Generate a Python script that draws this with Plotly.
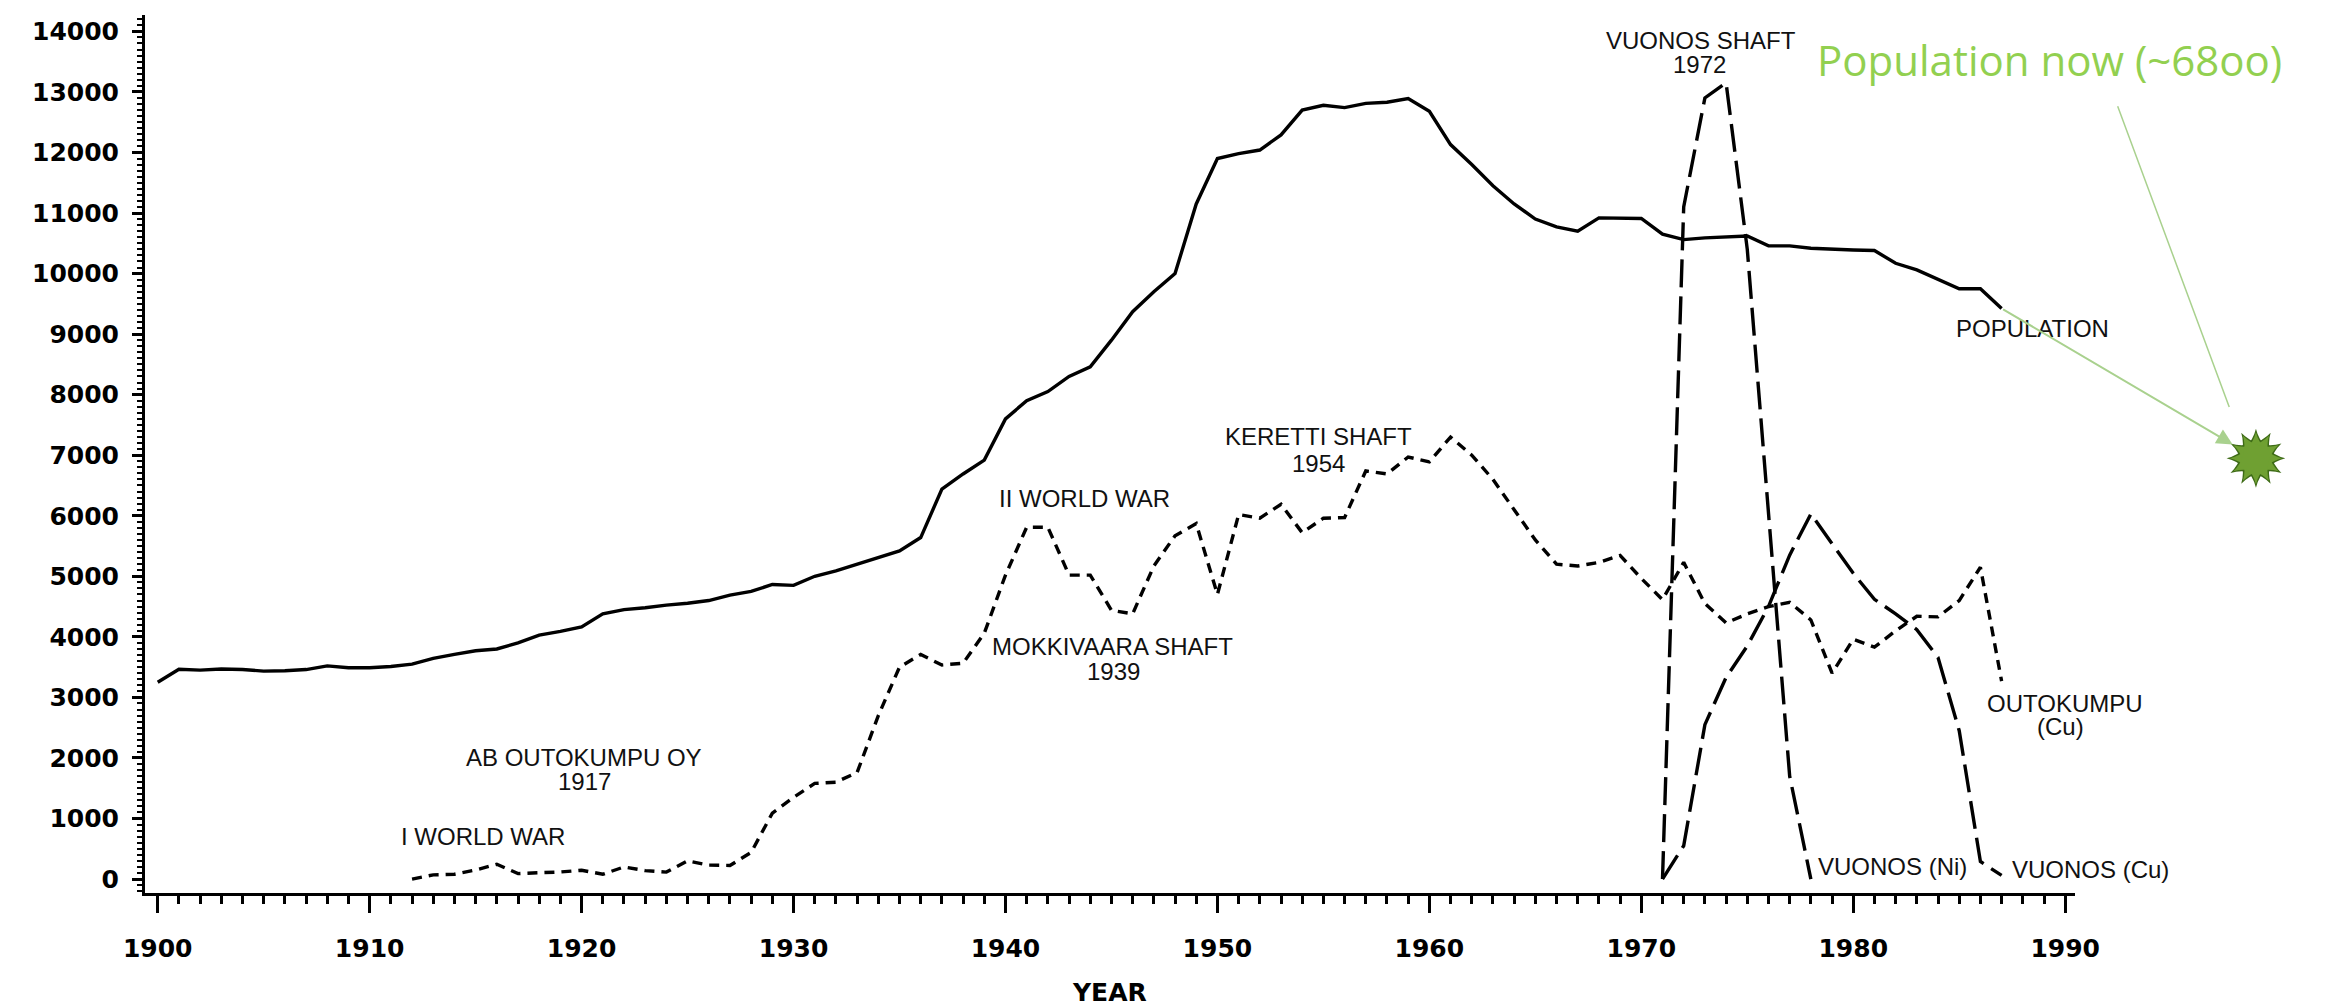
import plotly.graph_objects as go

# ---------------- data ----------------
years_pop = list(range(1900, 1988))
population = [
    3250, 3465, 3450, 3470, 3460, 3435, 3440, 3460, 3520, 3490,   # 1900-1909
    3490, 3510, 3550, 3645, 3710, 3770, 3800, 3900, 4030, 4090,   # 1910-1919
    4165, 4380, 4450, 4480, 4525, 4555, 4600, 4690, 4750, 4865,   # 1920-1929
    4850, 5000, 5090, 5200, 5300, 5420, 5640, 6440, 6690, 6920,   # 1930-1939
    7600, 7900, 8050, 8300, 8460, 8900, 9370, 9700, 10000, 11150,  # 1940-1949
    11900, 11980, 12040, 12290, 12700, 12780, 12740, 12810, 12830, 12890,  # 1950-1959
    12680, 12130, 11800, 11450, 11150, 10900, 10770, 10700, 10920, 10920,  # 1960-1969
    10910, 10650, 10560, 10590, 10610, 10620, 10457, 10457, 10418, 10400,  # 1970-1979
    10390, 10380, 10170, 10060, 9900, 9750, 9750, 9424,                    # 1980-1987
]

years_outo = list(range(1912, 1988))
outokumpu_cu = [
    0, 70, 80, 150, 245, 90, 105, 117,                             # 1912-1919
    146, 80, 200, 140, 115, 300, 230, 225, 440, 1090,              # 1920-1929
    1350, 1580, 1600, 1760, 2700, 3500, 3710, 3535, 3565, 4060,    # 1930-1939
    5020, 5810, 5810, 5020, 5020, 4440, 4380, 5170, 5670, 5870,    # 1940-1949
    4700, 6020, 5960, 6190, 5720, 5960, 5970, 6740, 6690, 6970,    # 1950-1959
    6890, 7300, 7000, 6600, 6100, 5600, 5200, 5170, 5230, 5345,    # 1960-1969
    4965, 4615, 5230, 4550, 4230, 4380, 4500, 4570, 4280, 3400,    # 1970-1979
    3960, 3830, 4100, 4340, 4330, 4600, 5150, 3270,                # 1980-1987
]

years_ni = list(range(1971, 1979))
vuonos_ni = [0, 11100, 12900, 13150, 10400, 6100, 1700, 0]

years_cu = list(range(1971, 1988))
vuonos_cu = [0, 550, 2550, 3330, 3850, 4500, 5350, 6030, 5540, 5050,
             4620, 4380, 4120, 3660, 2450, 290, 60]

now_year = 1999
now_pop = 6950
now_label = "Population now (~68oo)"

x_tick0, x_dtick = 1900, 10
y_tick0, y_dtick = 0, 1000

labels = [  # (text, x, y)
    ("VUONOS SHAFT", 1972.8, 13845),
    ("1972", 1972.75, 13445),
    ("POPULATION", 1988.45, 9092),
    ("KERETTI SHAFT", 1954.75, 7310),
    ("1954", 1954.75, 6865),
    ("II WORLD WAR", 1943.75, 6287),
    ("MOKKIVAARA SHAFT", 1945.07, 3845),
    ("1939", 1945.1, 3432),
    ("AB OUTOKUMPU OY", 1920.1, 2013),
    ("1917", 1920.16, 1617),
    ("I WORLD WAR", 1915.33, 700),
    ("OUTOKUMPU", 1990.0, 2904),
    ("(Cu)", 1989.76, 2513),
    ("VUONOS (Ni)", 1981.83, 205),
    ("VUONOS (Cu)", 1991.2, 158),
]

# ---------------- layout geometry ----------------
W, H = 2328, 1005
ML, MR, MT, MB = 137, 0, 7, 120
X_RANGE = [1899.4, 1990.45]
Y_RANGE = [-230, 14270]
AXIS_END_PX = 2089
D = (AXIS_END_PX - ML) / (W - ML - MR)
X2_RANGE = [X_RANGE[0], X_RANGE[0] + (X_RANGE[1] - X_RANGE[0]) / D]

TICK_FONT = dict(family="DejaVu Sans, Verdana, sans-serif", size=25, color="black", weight="bold")
LABEL_FONT = dict(family="Liberation Sans, Arial, sans-serif", size=24, color="#111111")
GREEN_TEXT = "#92D050"
GREEN_LINE = "#A9D18E"

fig = go.Figure()

fig.add_trace(go.Scatter(x=years_pop, y=population, mode="lines",
                         line=dict(color="black", width=3.4),
                         xaxis="x", yaxis="y", hoverinfo="skip", showlegend=False))
fig.add_trace(go.Scatter(x=years_outo, y=outokumpu_cu, mode="lines",
                         line=dict(color="black", width=3.4, dash="10px,7px"),
                         xaxis="x", yaxis="y", hoverinfo="skip", showlegend=False))
fig.add_trace(go.Scatter(x=years_ni, y=vuonos_ni, mode="lines",
                         line=dict(color="black", width=3.4, dash="28px,9px"),
                         xaxis="x", yaxis="y", hoverinfo="skip", showlegend=False))
fig.add_trace(go.Scatter(x=years_cu, y=vuonos_cu, mode="lines",
                         line=dict(color="black", width=3.4, dash="28px,9px"),
                         xaxis="x", yaxis="y", hoverinfo="skip", showlegend=False))

# starburst marker for "population now"
for size, color in ((42, "#3E6B17"), (37, "#6FA032")):
    for ang in (0, 30, 60):
        fig.add_trace(go.Scatter(x=[now_year], y=[now_pop], mode="markers",
                                 marker=dict(symbol="star-diamond", size=size, color=color,
                                             angle=ang, line=dict(width=0)),
                                 xaxis="x2", yaxis="y", hoverinfo="skip", showlegend=False))

annotations = []
for text, x, y in labels:
    annotations.append(dict(text=text, x=x, y=y, xref="x2", yref="y",
                            xanchor="center", yanchor="middle", showarrow=False,
                            font=LABEL_FONT))

# green text
annotations.append(dict(text=now_label, x=1989.28, y=13540, xref="x2", yref="y",
                        xanchor="center", yanchor="middle", showarrow=False,
                        font=dict(family="Open Sans, Lato, sans-serif", size=42, color=GREEN_TEXT)))
# line from green text to starburst
annotations.append(dict(text="", x=1997.74, y=7798, xref="x2", yref="y",
                        ax=1992.45, ay=12787, axref="x2", ayref="y",
                        showarrow=True, arrowhead=0, arrowwidth=1.5, arrowcolor=GREEN_LINE))
# arrow from population end to starburst
annotations.append(dict(text="", x=now_year, y=now_pop, xref="x2", yref="y",
                        ax=years_pop[-1], ay=population[-1], axref="x2", ayref="y",
                        showarrow=True, arrowhead=2, arrowsize=1.6, arrowwidth=2,
                        standoff=27, arrowcolor=GREEN_LINE))

fig.update_layout(
    width=W, height=H,
    margin=dict(l=ML, r=MR, t=MT, b=MB, pad=0),
    paper_bgcolor="white", plot_bgcolor="rgba(0,0,0,0)",
    showlegend=False,
    annotations=annotations,
    xaxis=dict(domain=[0, D], range=X_RANGE, anchor="y",
               tickmode="linear", tick0=x_tick0, dtick=x_dtick,
               ticks="outside", ticklen=17, tickwidth=3, tickcolor="black",
               minor=dict(tickmode="linear", tick0=x_tick0, dtick=1, ticks="outside",
                          ticklen=8, tickwidth=3, tickcolor="black"),
               showline=True, linewidth=3, linecolor="black",
               showgrid=False, zeroline=False, tickfont=TICK_FONT,
               ticklabelstandoff=14,
               title=dict(text="YEAR", font=TICK_FONT, standoff=22)),
    xaxis2=dict(domain=[0, 1], range=X2_RANGE, anchor="y", visible=False,
                showgrid=False, zeroline=False),
    yaxis=dict(range=Y_RANGE, anchor="x",
               tickmode="linear", tick0=y_tick0, dtick=y_dtick, tickformat="d",
               ticks="outside", ticklen=10, tickwidth=3, tickcolor="black",
               minor=dict(tickmode="linear", tick0=y_tick0, dtick=100, ticks="outside",
                          ticklen=5, tickwidth=2, tickcolor="black"),
               showline=True, linewidth=3, linecolor="black",
               showgrid=False, zeroline=False, tickfont=TICK_FONT,
               ticklabelstandoff=8),
)

fig.write_html("out.html")
